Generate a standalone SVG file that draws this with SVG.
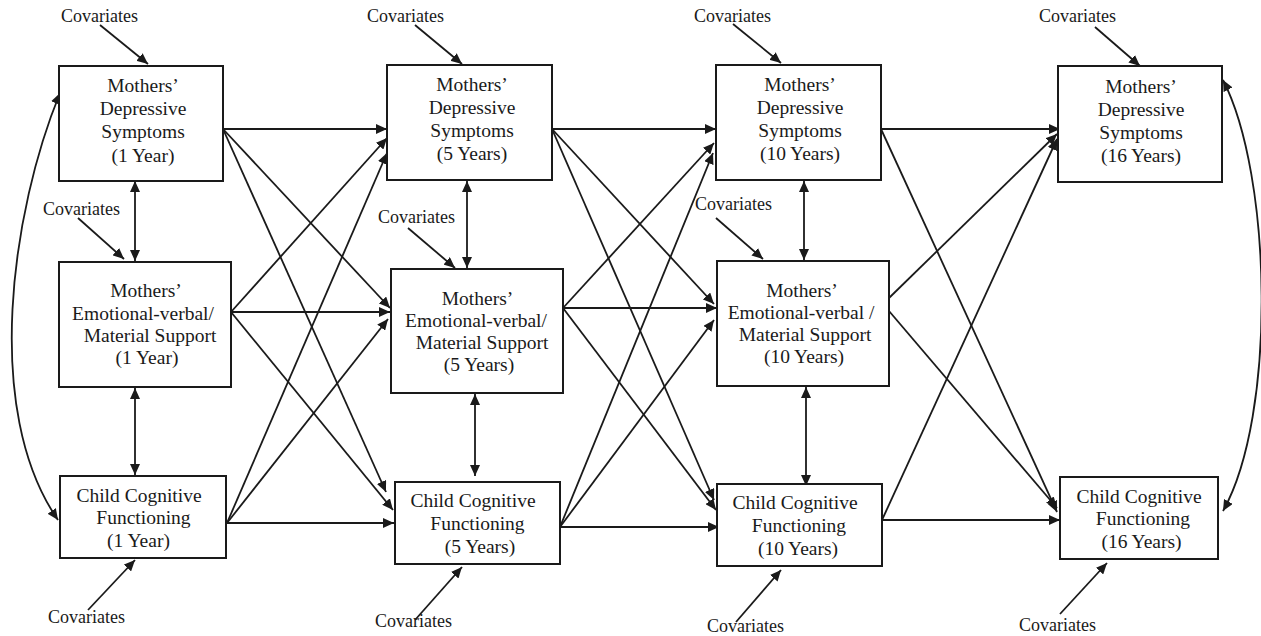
<svg xmlns="http://www.w3.org/2000/svg" width="1261" height="636" viewBox="0 0 1261 636">
<style>
.box{fill:#fff;stroke:#1a1a1a;stroke-width:2}
.t{font-family:"Liberation Serif","Times New Roman",serif;font-size:19.5px;text-anchor:middle;fill:#1a1a1a}
.cov{font-family:"Liberation Serif","Times New Roman",serif;font-size:18px;fill:#1a1a1a}
.c{stroke:#1a1a1a;stroke-width:1.8;fill:none;marker-end:url(#ah)}
.b{marker-start:url(#ah)}
</style>
<defs>
<marker id="ah" markerUnits="userSpaceOnUse" markerWidth="12" markerHeight="10" refX="11" refY="5" orient="auto-start-reverse" viewBox="0 0 12 10">
<path d="M0,0 L11,5 L0,10 z" fill="#1a1a1a"/>
</marker>
</defs>
<rect width="1261" height="636" fill="#fff"/>
<g id="connectors">
<line class="c" x1="100" y1="25" x2="148" y2="64"/>
<line class="c" x1="415" y1="25" x2="462" y2="64"/>
<line class="c" x1="733" y1="24" x2="781" y2="63"/>
<line class="c" x1="1095" y1="27" x2="1140" y2="66"/>
<line class="c" x1="78" y1="218" x2="124" y2="259"/>
<line class="c" x1="408" y1="228" x2="455" y2="268"/>
<line class="c" x1="716" y1="218" x2="763" y2="259"/>
<line class="c" x1="88" y1="610" x2="135" y2="560"/>
<line class="c" x1="415" y1="620" x2="462" y2="567"/>
<line class="c" x1="736" y1="622" x2="781" y2="570"/>
<line class="c" x1="1060" y1="614" x2="1107" y2="563"/>
<line class="c b" x1="135" y1="181" x2="135" y2="261"/>
<line class="c b" x1="135" y1="388" x2="135" y2="475"/>
<line class="c b" x1="467" y1="181" x2="467" y2="268"/>
<line class="c b" x1="475" y1="394" x2="475" y2="476"/>
<line class="c b" x1="804" y1="181" x2="804" y2="260"/>
<line class="c b" x1="806" y1="387" x2="806" y2="486"/>
<line class="c" x1="223" y1="129" x2="387" y2="129"/>
<line class="c" x1="223" y1="129" x2="390" y2="308"/>
<line class="c" x1="223" y1="129" x2="386" y2="492"/>
<line class="c" x1="231" y1="312" x2="390" y2="312"/>
<line class="c" x1="231" y1="312" x2="387" y2="138"/>
<line class="c" x1="231" y1="312" x2="393" y2="510"/>
<line class="c" x1="227" y1="523" x2="394" y2="523"/>
<line class="c" x1="227" y1="523" x2="387" y2="153"/>
<line class="c" x1="227" y1="523" x2="388" y2="319"/>
<line class="c" x1="552" y1="129" x2="716" y2="129"/>
<line class="c" x1="552" y1="129" x2="714" y2="304"/>
<line class="c" x1="552" y1="129" x2="714" y2="500"/>
<line class="c" x1="563" y1="308" x2="717" y2="308"/>
<line class="c" x1="563" y1="308" x2="714" y2="143"/>
<line class="c" x1="563" y1="308" x2="716" y2="510"/>
<line class="c" x1="560" y1="527" x2="719" y2="527"/>
<line class="c" x1="560" y1="527" x2="713" y2="153"/>
<line class="c" x1="560" y1="527" x2="714" y2="320"/>
<line class="c" x1="881" y1="129" x2="1060" y2="129"/>
<line class="c" x1="881" y1="129" x2="1057" y2="512"/>
<line class="c" x1="889" y1="298" x2="1057" y2="134"/>
<line class="c" x1="889" y1="311" x2="1057" y2="508"/>
<line class="c" x1="882" y1="520" x2="1060" y2="520"/>
<line class="c" x1="882" y1="520" x2="1057" y2="139"/>
<path class="c b" d="M60,93 C12,210 -18,410 58,520"/>
<path class="c b" d="M1223,80 C1272,175 1277,415 1223,511"/>
</g>
<g id="mds1"><rect class="box" x="59" y="66" width="164" height="115"/>
<text class="t" x="143" y="92">Mothers’</text><text class="t" x="143" y="115">Depressive</text><text class="t" x="143" y="138">Symptoms</text><text class="t" x="143" y="161.5">(1 Year)</text></g>
<g id="mev1"><rect class="box" x="59" y="262" width="172" height="125"/>
<text class="t" x="146" y="297">Mothers’</text><text class="t" x="143" y="319.5">Emotional-verbal/</text><text class="t" x="150" y="342">Material Support</text><text class="t" x="147" y="364">(1 Year)</text></g>
<g id="ccf1"><rect class="box" x="60" y="476" width="166" height="82"/>
<text class="t" x="139" y="501.5">Child Cognitive</text><text class="t" x="143.5" y="524">Functioning</text><text class="t" x="138.5" y="547">(1 Year)</text></g>
<g id="mds5"><rect class="box" x="387" y="65" width="165" height="115"/>
<text class="t" x="472" y="91">Mothers’</text><text class="t" x="472" y="114">Depressive</text><text class="t" x="472" y="137">Symptoms</text><text class="t" x="472" y="160">(5 Years)</text></g>
<g id="mev5"><rect class="box" x="391" y="269" width="172" height="124"/>
<text class="t" x="477.5" y="305">Mothers’</text><text class="t" x="476" y="327">Emotional-verbal/</text><text class="t" x="482" y="349">Material Support</text><text class="t" x="479" y="371">(5 Years)</text></g>
<g id="ccf5"><rect class="box" x="395" y="482" width="165" height="82"/>
<text class="t" x="473" y="507">Child Cognitive</text><text class="t" x="477.5" y="530">Functioning</text><text class="t" x="480" y="553">(5 Years)</text></g>
<g id="mds10"><rect class="box" x="716" y="65" width="165" height="115"/>
<text class="t" x="800" y="91">Mothers’</text><text class="t" x="800" y="114">Depressive</text><text class="t" x="800" y="137">Symptoms</text><text class="t" x="800" y="160">(10 Years)</text></g>
<g id="mev10"><rect class="box" x="717" y="261" width="172" height="125"/>
<text class="t" x="802" y="297">Mothers’</text><text class="t" x="801" y="318.5">Emotional-verbal /</text><text class="t" x="805" y="341">Material Support</text><text class="t" x="804" y="363">(10 Years)</text></g>
<g id="ccf10"><rect class="box" x="717" y="484" width="165" height="82"/>
<text class="t" x="795" y="509">Child Cognitive</text><text class="t" x="799" y="532">Functioning</text><text class="t" x="798" y="555">(10 Years)</text></g>
<g id="mds16"><rect class="box" x="1058" y="66" width="164" height="116"/>
<text class="t" x="1141" y="93">Mothers’</text><text class="t" x="1141" y="116">Depressive</text><text class="t" x="1141" y="139">Symptoms</text><text class="t" x="1141" y="162">(16 Years)</text></g>
<g id="ccf16"><rect class="box" x="1060" y="477" width="158" height="82"/>
<text class="t" x="1139" y="503">Child Cognitive</text><text class="t" x="1143" y="525">Functioning</text><text class="t" x="1141.5" y="548">(16 Years)</text></g>
<g id="covariates">
<text class="cov" x="61" y="22">Covariates</text>
<text class="cov" x="367" y="22">Covariates</text>
<text class="cov" x="694" y="22">Covariates</text>
<text class="cov" x="1039" y="22">Covariates</text>
<text class="cov" x="43" y="215">Covariates</text>
<text class="cov" x="378" y="223">Covariates</text>
<text class="cov" x="695" y="210">Covariates</text>
<text class="cov" x="48" y="623">Covariates</text>
<text class="cov" x="375" y="627">Covariates</text>
<text class="cov" x="707" y="632">Covariates</text>
<text class="cov" x="1019" y="631">Covariates</text>
</g>
</svg>
